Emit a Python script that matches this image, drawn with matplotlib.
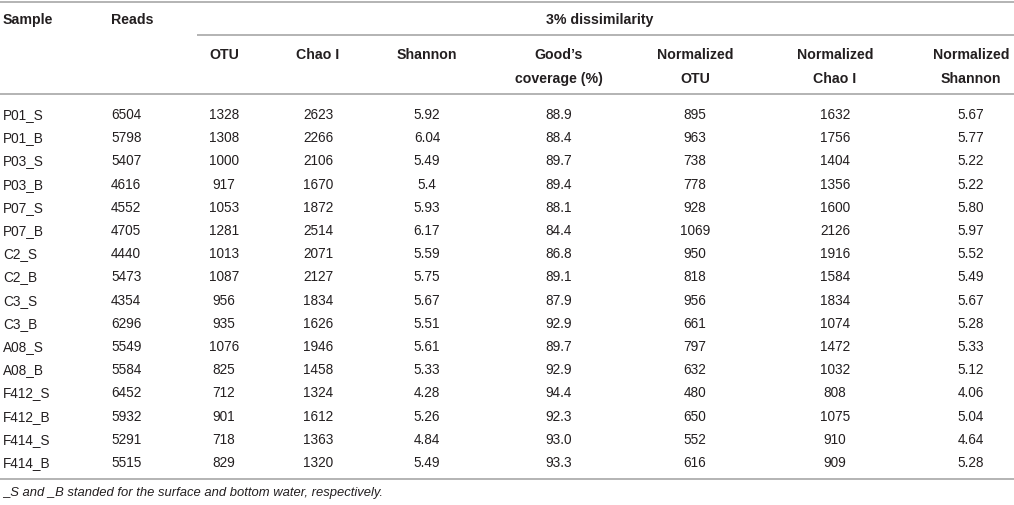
import matplotlib
matplotlib.use("Agg")
import matplotlib.pyplot as plt

samples = ["P01_S", "P01_B", "P03_S", "P03_B", "P07_S", "P07_B", "C2_S", "C2_B",
           "C3_S", "C3_B", "A08_S", "A08_B", "F412_S", "F412_B", "F414_S", "F414_B"]
reads = ["6504", "5798", "5407", "4616", "4552", "4705", "4440", "5473",
         "4354", "6296", "5549", "5584", "6452", "5932", "5291", "5515"]
otu = ["1328", "1308", "1000", "917", "1053", "1281", "1013", "1087",
       "956", "935", "1076", "825", "712", "901", "718", "829"]
chao = ["2623", "2266", "2106", "1670", "1872", "2514", "2071", "2127",
        "1834", "1626", "1946", "1458", "1324", "1612", "1363", "1320"]
shannon = ["5.92", "6.04", "5.49", "5.4", "5.93", "6.17", "5.59", "5.75",
           "5.67", "5.51", "5.61", "5.33", "4.28", "5.26", "4.84", "5.49"]
coverage = ["88.9", "88.4", "89.7", "89.4", "88.1", "84.4", "86.8", "89.1",
            "87.9", "92.9", "89.7", "92.9", "94.4", "92.3", "93.0", "93.3"]
norm_otu = ["895", "963", "738", "778", "928", "1069", "950", "818",
            "956", "661", "797", "632", "480", "650", "552", "616"]
norm_chao = ["1632", "1756", "1404", "1356", "1600", "2126", "1916", "1584",
             "1834", "1074", "1472", "1032", "808", "1075", "910", "909"]
norm_shannon = ["5.67", "5.77", "5.22", "5.22", "5.80", "5.97", "5.52", "5.49",
                "5.67", "5.28", "5.33", "5.12", "4.06", "5.04", "4.64", "5.28"]

top_headers = ["Sample", "Reads"]
group_header = "3% dissimilarity"
sub_headers = ["OTU", "Chao I", "Shannon", "Good\u2019s\ncoverage (%)",
               "Normalized\nOTU", "Normalized\nChao I", "Normalized\nShannon"]
footnote = "_S and _B standed for the surface and bottom water, respectively."

W, H = 1014, 506
fig = plt.figure(figsize=(W / 100, H / 100), dpi=100)
ax = fig.add_axes([0, 0, 1, 1])
ax.set_xlim(0, W)
ax.set_ylim(H, 0)
ax.axis("off")

FONT = "Liberation Sans"
TXT = "#231f20"
RULE = "#b3b3b3"
FSH = 10.2
FS = 9.8

# rules
ax.plot([0, W], [3, 3], color=RULE, lw=1.4, solid_capstyle="butt")
ax.plot([197, W], [36, 36], color=RULE, lw=1.4, solid_capstyle="butt")
ax.plot([0, W], [95, 95], color=RULE, lw=1.4, solid_capstyle="butt")
ax.plot([0, W], [480, 480], color=RULE, lw=1.4, solid_capstyle="butt")

# headers
ax.text(3, 20, top_headers[0], ha="left", va="center", fontsize=FSH,
        fontweight="bold", family=FONT, color=TXT)
ax.text(111, 20, top_headers[1], ha="left", va="center", fontsize=FSH,
        fontweight="bold", family=FONT, color=TXT)
ax.text(600, 20, group_header, ha="center", va="center", fontsize=FSH,
        fontweight="bold", family=FONT, color=TXT)

col_x = [224, 318, 427, 559, 695, 835, 971]
for x, h in zip(col_x, sub_headers):
    lines = h.split("\n")
    for i, ln in enumerate(lines):
        ax.text(x, 55 + i * 23.5, ln, ha="center", va="center", fontsize=FSH,
                fontweight="bold", family=FONT, color=TXT)

# body
y0, pitch = 115, 23.2
cols = [otu, chao, shannon, coverage, norm_otu, norm_chao, norm_shannon]
for r in range(len(samples)):
    y = y0 + r * pitch
    ax.text(3, y, samples[r], ha="left", va="center", fontsize=FS,
            family=FONT, color=TXT)
    ax.text(111, y, reads[r], ha="left", va="center", fontsize=FS,
            family=FONT, color=TXT)
    for x, col in zip(col_x, cols):
        ax.text(x, y, col[r], ha="center", va="center", fontsize=FS,
                family=FONT, color=TXT)

ax.text(3, 493, footnote, ha="left", va="center", fontsize=9.4,
        style="italic", family=FONT, color=TXT)

fig.savefig("out.png", dpi=100)
